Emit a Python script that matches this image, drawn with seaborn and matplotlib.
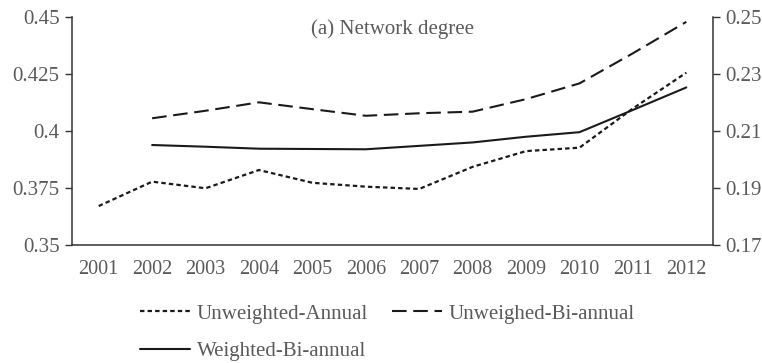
import numpy as np
import pandas as pd
import matplotlib
matplotlib.use("Agg")
import matplotlib.pyplot as plt
import seaborn as sns

years = list(range(2001, 2013))
years_bi = list(range(2002, 2013))

unweighted_annual = [0.3671, 0.3778, 0.3749, 0.3829, 0.3773, 0.3756,
                     0.3746, 0.3843, 0.3912, 0.3927, 0.4099, 0.4256]
unweighed_bi_annual = [0.4056, 0.4089, 0.4126, 0.4096, 0.4067, 0.4078,
                       0.4085, 0.4140, 0.4209, 0.4341, 0.4479]
weighted_bi_annual = [0.2051, 0.2045, 0.2038, 0.2037, 0.2036, 0.2048,
                      0.2060, 0.2080, 0.2096, 0.2174, 0.2253]

left_ticks = [0.35, 0.375, 0.4, 0.425, 0.45]
left_labels = ["0.35", "0.375", "0.4", "0.425", "0.45"]
right_ticks = [0.17, 0.19, 0.21, 0.23, 0.25]
right_labels = ["0.17", "0.19", "0.21", "0.23", "0.25"]
title_text = "(a) Network degree"

sns.set_theme(style="white")
plt.rcParams["font.family"] = ["Liberation Serif", "DejaVu Serif"]
text_color = "#5a5a5a"
line_color = "#1a1a1a"

fig = plt.figure(figsize=(7.62, 3.63), dpi=100)
ax = fig.add_axes([0.0945, 0.325, 0.8412, 0.628])
ax2 = ax.twinx()

df_a = pd.DataFrame({"year": years, "value": unweighted_annual})
df_b = pd.DataFrame({"year": years_bi, "value": unweighed_bi_annual})
df_w = pd.DataFrame({"year": years_bi, "value": weighted_bi_annual})

sns.lineplot(data=df_a, x="year", y="value", ax=ax, color=line_color,
             linewidth=1.6, label="Unweighted-Annual", legend=False)
sns.lineplot(data=df_b, x="year", y="value", ax=ax, color=line_color,
             linewidth=1.5, label="Unweighed-Bi-annual", legend=False)
sns.lineplot(data=df_w, x="year", y="value", ax=ax2, color=line_color,
             linewidth=1.5, label="Weighted-Bi-annual", legend=False)

l_a, l_b = ax.get_lines()[0], ax.get_lines()[1]
l_w = ax2.get_lines()[0]
l_a.set_dashes((2.0, 1.4))
l_b.set_dashes((7, 3.2))

ax.set_xlim(2000.5, 2012.5)
ax.set_ylim(0.35, 0.45)
ax2.set_ylim(0.17, 0.25)
ax.set_xticks(years)
ax.set_xticklabels([str(y) for y in years])
ax.set_yticks(left_ticks)
ax.set_yticklabels(left_labels)
ax2.set_yticks(right_ticks)
ax2.set_yticklabels(right_labels)
ax.set_xlabel("")
ax.set_ylabel("")
ax2.set_ylabel("")

for a in (ax, ax2):
    a.spines["top"].set_visible(False)
    for side in ("left", "right", "bottom"):
        a.spines[side].set_color("#333333")
        a.spines[side].set_linewidth(1.1)
ax.spines["right"].set_visible(False)
ax2.spines["left"].set_visible(False)
ax2.spines["bottom"].set_visible(False)

ax.tick_params(axis="y", which="both", left=True, length=5, width=1.0,
               color="#333333", labelsize=15, labelcolor=text_color, pad=4)
ax.tick_params(axis="x", bottom=False, labelsize=14.5, labelcolor=text_color, pad=5)
ax2.tick_params(axis="y", right=True, length=5, width=1.0, color="#333333",
                labelsize=15, labelcolor=text_color, pad=4)

ax.text(0.5, 0.99, title_text, transform=ax.transAxes, ha="center", va="top",
        fontsize=15, color=text_color)

handles = [l_a, l_w, l_b]
labels = ["Unweighted-Annual", "Weighted-Bi-annual", "Unweighed-Bi-annual"]
fig.legend(handles, labels, ncol=2, frameon=False, loc="upper left",
           bbox_to_anchor=(0.1837, 0.162), fontsize=15, labelcolor=text_color,
           handlelength=2.4, handletextpad=0.33, columnspacing=1.15,
           labelspacing=0.85, borderpad=0, borderaxespad=0)

fig.savefig("out.png", dpi=100, facecolor="white")
